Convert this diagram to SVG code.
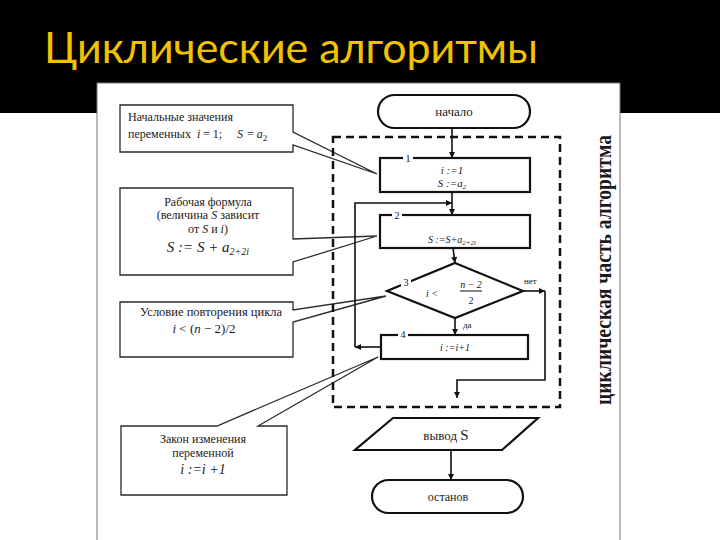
<svg xmlns="http://www.w3.org/2000/svg" width="720" height="540" viewBox="0 0 720 540">
<style>
.t{font-family:"Liberation Serif","DejaVu Serif",serif;fill:#1a1a1a}
.c{text-anchor:middle}
.i{font-style:italic}
.call{fill:#fff;stroke:#2a2a2a;stroke-width:1.3;stroke-linejoin:miter}
.fb{fill:#fff;stroke:#111;stroke-width:2.2}
.ln{fill:none;stroke:#111;stroke-width:1.6}
.num{font-family:"Liberation Serif",serif;font-size:10px;fill:#111;text-anchor:middle}
</style>
<defs>
<marker id="ah" viewBox="0 0 10 10" refX="10" refY="5" markerWidth="7" markerHeight="6" markerUnits="userSpaceOnUse" orient="auto">
<path d="M0,0 L10,5 L0,10 Z" fill="#111"/>
</marker>
</defs>
<rect x="0" y="0" width="720" height="540" fill="#fff"/>
<rect x="0" y="0" width="720" height="113" fill="#000"/>
<text x="44" y="63" font-family="Lato,'Open Sans',sans-serif" font-size="43" fill="#F2C200" textLength="494" lengthAdjust="spacingAndGlyphs">Циклические алгоритмы</text>
<rect x="97" y="83" width="523" height="470" fill="#fff" stroke="#777" stroke-width="1"/>

<g id="note1">
<path class="call" d="M120,105 H293 V132 L377,174 L293,145 V152 H120 Z"/>
<text class="t" x="128" y="121" font-size="12">Начальные значения</text>
<text class="t" y="138" font-size="12"><tspan x="128">переменных</tspan><tspan class="i" x="197">i</tspan><tspan x="203">= 1;</tspan><tspan class="i" x="237">S</tspan><tspan x="247">= </tspan><tspan class="i">a</tspan><tspan font-size="9" dy="3">2</tspan></text>
</g>
<g id="note2">
<path class="call" d="M120,188 H293 V239 L377,236 L293,262 V275 H120 Z"/>
<text class="t c" x="208" y="206" font-size="12">Рабочая формула</text>
<text class="t c" x="208" y="219" font-size="12">(величина <tspan class="i">S</tspan> зависит</text>
<text class="t c" x="208" y="233" font-size="12">от <tspan class="i">S</tspan> и <tspan class="i">i</tspan>)</text>
<text class="t c i" x="208" y="252" font-size="15">S := S + a<tspan font-size="10" dy="3">2+2i</tspan></text>
</g>
<g id="note3">
<path class="call" d="M120,302 H293 V310 L386,296 L293,322 V357 H120 Z"/>
<text class="t c" x="211" y="316" font-size="12.5">Условие повторения цикла</text>
<text class="t c" x="204" y="333" font-size="13"><tspan class="i">i</tspan> &lt; (<tspan class="i">n</tspan> − 2)/2</text>
</g>
<g id="note4">
<path class="call" d="M121,426 H217 L378,357 L258,426 H287 V495 H121 Z"/>
<text class="t c" x="203" y="443" font-size="12">Закон изменения</text>
<text class="t c" x="203" y="457" font-size="12">переменной</text>
<text class="t c i" x="203" y="474" font-size="14">i :=i +1</text>
</g>

<g id="loop-frame">
<rect x="333" y="137" width="227" height="270" fill="none" stroke="#111" stroke-width="2.5" stroke-dasharray="8 5"/>
<text class="t" transform="translate(611,270) rotate(-90)" text-anchor="middle" font-size="24" font-weight="bold" textLength="270" lengthAdjust="spacingAndGlyphs" fill="#111">циклическая часть алгоритма</text>
</g>

<g id="connectors">
<line class="ln" x1="452" y1="128" x2="452" y2="158" marker-end="url(#ah)"/>
<line class="ln" x1="452" y1="192" x2="452" y2="215" marker-end="url(#ah)"/>
<line class="ln" x1="453" y1="248" x2="455" y2="263" marker-end="url(#ah)"/>
<line class="ln" x1="455" y1="318" x2="455" y2="335" marker-end="url(#ah)"/>
<polyline class="ln" points="523,291 545,291" marker-end="url(#ah)"/>
<polyline class="ln" points="545,291 545,380 457,380 457,398" marker-end="url(#ah)"/>
<line class="ln" x1="381" y1="347" x2="355" y2="347" marker-end="url(#ah)"/>
<polyline class="ln" points="355,347 355,203 452,203" marker-end="url(#ah)"/>
<line class="ln" x1="451" y1="450" x2="451" y2="480" marker-end="url(#ah)"/>
</g>

<g id="start">
<rect class="fb" x="378" y="95" width="152" height="33" rx="16.5"/>
<text class="t c" x="454" y="116" font-size="13">начало</text>
</g>
<g id="block1">
<rect class="fb" x="380" y="158" width="150" height="34"/>
<rect x="403" y="154" width="10" height="8" fill="#fff"/>
<text class="num" x="408" y="162">1</text>
<text class="t c i" x="452" y="174" font-size="11">i :=1</text>
<text class="t c i" x="452" y="187" font-size="11">S :=a<tspan font-size="7" dy="2">2</tspan></text>
</g>
<g id="block2">
<rect class="fb" x="380" y="215" width="150" height="33"/>
<rect x="392" y="211" width="10" height="8" fill="#fff"/>
<text class="num" x="397" y="219">2</text>
<text class="t c i" x="452" y="243" font-size="10">S :=S+a<tspan font-size="7" dy="2">2+2i</tspan></text>
</g>
<g id="decision3">
<polygon class="fb" points="455,263 523,291 455,318 387,291"/>
<rect x="401" y="277" width="10" height="10" fill="#fff"/>
<text class="num" x="406" y="286">3</text>
<text class="t i" x="426" y="297" font-size="10">i &lt;</text>
<text class="t c i" x="471" y="288" font-size="10">n − 2</text>
<line x1="460" y1="291" x2="482" y2="291" stroke="#111" stroke-width="1"/>
<text class="t c" x="471" y="304" font-size="10">2</text>
<text class="t" x="524" y="284" font-size="9">нет</text>
<text class="t" x="463" y="328" font-size="9">да</text>
</g>
<g id="block4">
<rect class="fb" x="381" y="335" width="147" height="24"/>
<rect x="398" y="331" width="10" height="8" fill="#fff"/>
<text class="num" x="403" y="338">4</text>
<text class="t c i" x="455" y="351" font-size="10">i :=i+1</text>
</g>
<g id="output">
<polygon class="fb" points="393,418 538,418 502,450 355,450"/>
<text class="t c" x="446" y="440" font-size="13">вывод  <tspan font-size="15">S</tspan></text>
</g>
<g id="stop">
<rect class="fb" x="372" y="480" width="151" height="33" rx="16.5"/>
<text class="t c" x="448" y="501" font-size="12">останов</text>
</g>
</svg>
